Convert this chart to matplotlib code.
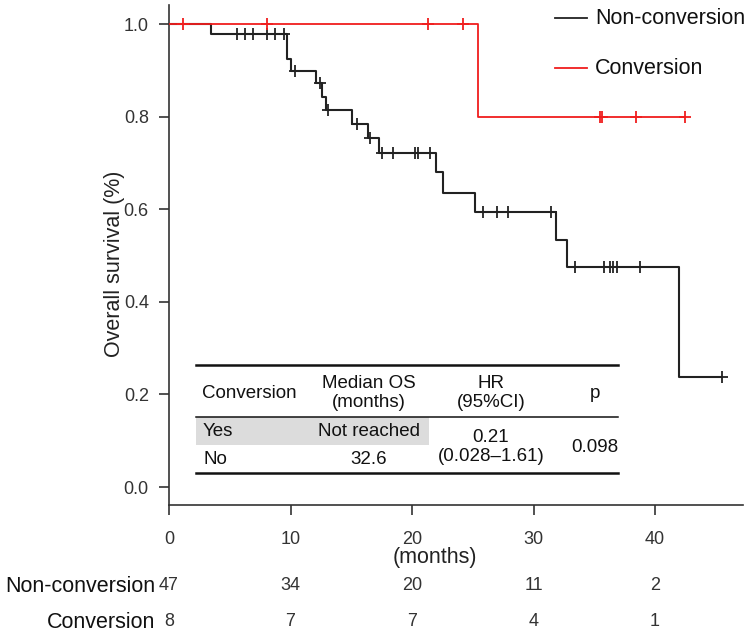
import numpy as np
import matplotlib
matplotlib.use("Agg")
import matplotlib.pyplot as plt
from matplotlib.lines import Line2D
from matplotlib.patches import Rectangle
from matplotlib.transforms import blended_transform_factory

plt.rcParams["font.family"] = ["Liberation Sans", "DejaVu Sans"]

# Non-conversion KM curve: event times (months) and survival after each drop
non_t = [3.46, 9.74, 10.01, 12.1, 12.6, 12.95, 15.09, 16.4, 17.31, 21.98, 22.53,
         25.19, 31.85, 32.73, 41.95]
non_s = [0.979, 0.925, 0.899, 0.873, 0.844, 0.814, 0.785, 0.754, 0.721, 0.680,
         0.635, 0.594, 0.534, 0.476, 0.238]
non_cens = [5.62, 6.26, 6.89, 8.09, 8.72, 9.47, 10.37, 12.45, 13.1, 15.45, 16.55,
            17.5, 18.46, 20.25, 20.52, 21.48, 25.82, 27.02, 27.93, 31.41, 33.44,
            35.83, 36.3, 36.57, 36.85, 38.77, 45.49]
non_end = 45.49

# Conversion KM curve
con_t = [25.46]
con_s = [0.80]
con_cens = [1.13, 8.09, 21.34, 24.17, 35.5, 35.65, 38.44, 42.47]
con_end = 42.47

# numbers at risk
risk_times = [0, 10, 20, 30, 40]
risk_non = [47, 34, 20, 11, 2]
risk_con = [8, 7, 7, 4, 1]

# summary table
tab_header = ["Conversion", "Median OS\n(months)", "HR\n(95%CI)", "p"]
tab_group = ["Yes", "No"]
tab_median = ["Not reached", "32.6"]
tab_hr = "0.21\n(0.028\u20131.61)"
tab_p = "0.098"

W, H = 751, 635


def fx(x):
    return x / W


def fy(y):
    return 1 - y / H


def km_xy(t, s, end):
    x = np.r_[0, t, end]
    y = np.r_[1.0, s, s[-1]]
    return x, y


def surv_at(t, s, times):
    idx = np.searchsorted(t, times, side="right")
    return np.r_[1.0, s][idx]


fig = plt.figure(figsize=(W / 100, H / 100), dpi=100)
ax = fig.add_axes([fx(169), fy(505), fx(743 - 169), 500 / H])

axis_col = "#333333"
black = "#222222"
red = "#f01e1e"

x, y = km_xy(non_t, non_s, non_end)
ax.plot(x, y, drawstyle="steps-post", color=black, lw=1.5, zorder=2)
ax.plot(non_cens, surv_at(non_t, non_s, non_cens), ls="none", marker="+",
        ms=8, mew=1.3, color=black, zorder=2)

x, y = km_xy(con_t, con_s, con_end)
ax.plot(x, y, drawstyle="steps-post", color=red, lw=1.3, zorder=3)
ax.plot(con_cens, surv_at(con_t, con_s, con_cens), ls="none", marker="+",
        ms=8, mew=1.3, color=red, zorder=3)

ax.set_xlim(0, (743 - 169) / 12.15)
ax.set_ylim(-0.0389, 1.042)
ax.set_xticks(risk_times)
ax.set_yticks([0, 0.2, 0.4, 0.6, 0.8, 1.0])
ax.set_yticklabels(["0.0", "0.2", "0.4", "0.6", "0.8", "1.0"])
for side in ("top", "right"):
    ax.spines[side].set_visible(False)
for side in ("left", "bottom"):
    ax.spines[side].set_color(axis_col)
    ax.spines[side].set_linewidth(1.2)
ax.tick_params(axis="both", length=7.5, width=1.2, color=axis_col,
               labelcolor=axis_col, labelsize=13)
ax.tick_params(axis="x", pad=11)
ax.tick_params(axis="y", pad=7)
ax.set_ylabel("Overall survival (%)", fontsize=15.5, color="#222222", labelpad=-1)
ax.yaxis.label.set_y(0.482)

# x-axis unit label
fig.text(fx(435), fy(557), "(months)", fontsize=15.5, color="#222222",
         ha="center", va="center")

# legend
for yy, col, lab in [(18, black, "Non-conversion"), (68, red, "Conversion")]:
    fig.add_artist(Line2D([fx(555), fx(587)], [fy(yy), fy(yy)], color=col, lw=1.3))
    fig.text(fx(595), fy(yy), lab, fontsize=15.5, color="#111111",
             ha="left", va="center")

# risk table
tr = blended_transform_factory(ax.transData, fig.transFigure)
for yy, lab, vals in [(586, "Non-conversion", risk_non), (622, "Conversion", risk_con)]:
    fig.text(fx(155), fy(yy), lab, fontsize=15.5, color="#111111",
             ha="right", va="center")
    for t, v in zip(risk_times, vals):
        ax.text(t, fy(yy), str(v), transform=tr, fontsize=13, color=axis_col,
                ha="center", va="center", clip_on=False)

# summary table inside the plot
fig.add_artist(Rectangle((fx(196), fy(445)), fx(429 - 196), (445 - 417) / H,
                         facecolor="#dcdcdc", edgecolor="none", zorder=1))
for yy, lw in [(365, 1.8), (417, 1.1), (473, 1.8)]:
    fig.add_artist(Line2D([fx(196), fx(618)], [fy(yy), fy(yy)], color="#111111", lw=lw))
tfs = 13.5
fig.text(fx(202), fy(393), tab_header[0], fontsize=tfs, ha="left", va="center",
         color="#111111")
fig.text(fx(369), fy(393), tab_header[1], fontsize=tfs, ha="center", va="center",
         color="#111111", linespacing=1.1)
fig.text(fx(491), fy(393), tab_header[2], fontsize=tfs, ha="center", va="center",
         color="#111111", linespacing=1.1)
fig.text(fx(595), fy(393), tab_header[3], fontsize=tfs, ha="center", va="center",
         color="#111111")
for yy, g, m in zip([431, 460], tab_group, tab_median):
    fig.text(fx(203), fy(yy), g, fontsize=tfs, ha="left", va="center", color="#111111")
    fig.text(fx(369), fy(yy), m, fontsize=tfs, ha="center", va="center", color="#111111")
fig.text(fx(491), fy(447), tab_hr, fontsize=tfs, ha="center", va="center",
         color="#111111", linespacing=1.1)
fig.text(fx(595), fy(447), tab_p, fontsize=tfs, ha="center", va="center",
         color="#111111")

fig.savefig("out.png", dpi=100)
